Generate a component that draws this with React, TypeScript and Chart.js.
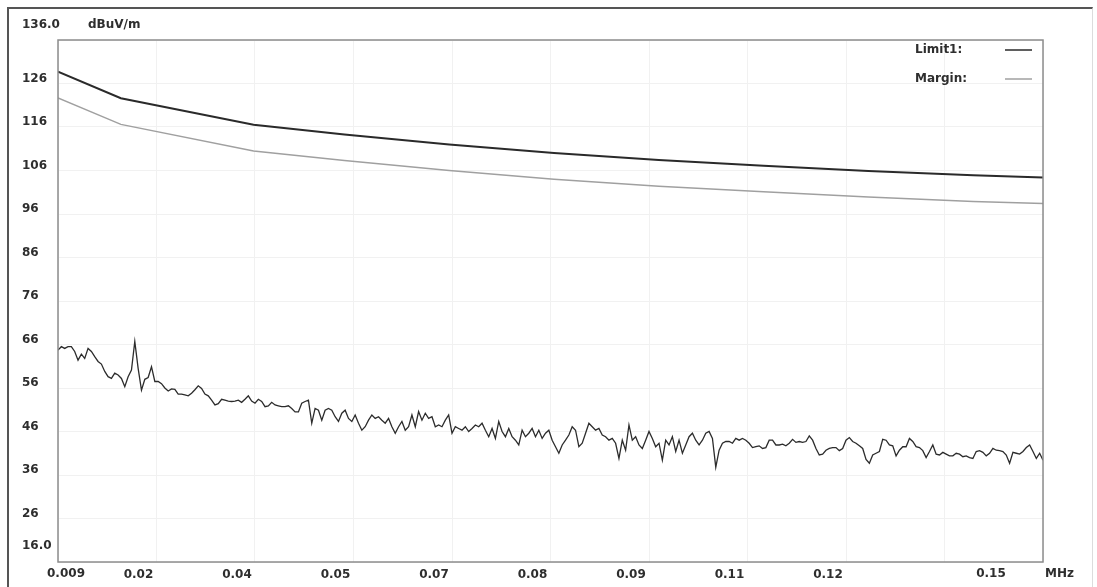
import React, { useEffect, useRef } from "react";
import { Chart, registerables } from "chart.js";

Chart.register(...registerables);

// ---- axes ----
const X_MIN = 0.009;
const X_MAX = 0.15;
const Y_MIN = 16;
const Y_MAX = 136;
const Y_STEP = 10;
// ten equal divisions of the sweep
const X_GRID = [0.009, 0.0231, 0.0372, 0.0513, 0.0654, 0.0795, 0.0936, 0.1077, 0.1218, 0.1359, 0.15];
const X_TICK_LABELS = ["", "0.02", "0.04", "0.05", "0.07", "0.08", "0.09", "0.11", "0.12", "", ""];
const X_FIRST_LABEL = "0.009";
const X_LAST_LABEL = "0.15";
const X_UNIT = "MHz";
const Y_TOP_LABEL = "136.0";
const Y_BOTTOM_LABEL = "16.0";
const Y_UNIT = "dBuV/m";

// ---- limit lines ----
const LIMIT_FREQ = [0.009, 0.018, 0.037, 0.05, 0.065, 0.08, 0.095, 0.11, 0.125, 0.14, 0.15];
const LIMIT_LEVEL = [128.7, 122.6, 116.5, 114.3, 112.0, 110.0, 108.4, 107.1, 105.9, 104.9, 104.4];
const MARGIN_LEVEL = [122.7, 116.6, 110.5, 108.3, 106.0, 104.0, 102.4, 101.1, 99.9, 98.9, 98.4];

// ---- measured trace (uniform sweep 0.009 .. 0.15 MHz) ----
const TRACE_A = [
  64.7, 65.5, 65.1, 65.5, 65.5, 64.4, 62.4, 63.8, 62.8, 65.1,
  64.4, 63.2, 62.1, 61.5, 59.8, 58.6, 58.2, 59.4, 59.0, 58.2,
  56.3, 58.6, 60.1, 66.7, 60.5, 55.5, 58.0, 58.4, 60.9, 57.5,
  57.5, 57.0, 56.0, 55.3, 55.8, 55.7, 54.6, 54.6, 54.4, 54.2,
  54.8, 55.6, 56.5, 55.9, 54.6, 54.2, 53.2, 52.1, 52.4, 53.4,
  53.2, 53.0, 52.9, 53.0, 53.2, 52.7, 53.4, 54.2, 53.0, 52.5,
  53.4, 52.9, 51.7, 51.9, 52.7, 52.1, 51.9, 51.7, 51.7, 51.9,
  51.3, 50.5, 50.5,
];
const TRACE_B = [
  52.5, 52.9, 53.2, 47.9, 51.3, 50.9, 48.6, 50.9, 51.3, 50.9,
  49.4, 48.3, 50.2, 50.9, 49.0, 48.3, 49.8, 47.9, 46.3, 47.1,
  48.6, 49.8, 49.0, 49.4, 48.6, 47.9, 49.0, 47.1, 45.6, 47.1,
  48.3, 46.3, 47.1, 49.8, 47.1, 50.6, 48.6, 50.2, 49.0, 49.4,
  47.1, 47.5, 47.1, 48.6, 49.8, 45.6, 47.1, 46.7, 46.3, 47.1,
  46.0, 46.7, 47.5, 47.1, 47.9, 46.3, 44.8, 46.7, 44.4, 48.3,
  46.0, 44.8, 46.7, 44.8, 44.0, 42.9, 46.3, 44.8, 45.6, 46.7,
  44.8, 46.3, 44.4, 45.6, 46.3, 44.0, 42.5, 41.0, 42.9, 44.0,
  45.2, 47.1, 46.3, 42.5, 43.3, 45.6, 47.9, 47.1, 46.3, 46.7,
  45.2, 44.8, 44.0, 44.4, 43.3, 39.8, 44.0, 41.7, 47.5, 44.0,
  44.8, 42.9, 42.1, 44.0, 46.0, 44.4, 42.5, 43.3, 39.4, 44.0,
  42.9, 44.8, 41.4, 44.0, 41.0, 42.9, 44.8, 45.6, 44.0, 42.9,
];
const TRACE_C = [
  44.0, 45.6, 46.0, 44.4, 37.8, 41.7, 43.3, 43.7, 43.7, 43.3,
  44.4, 44.0, 44.4, 44.0, 43.3, 42.3, 42.5, 42.7, 42.1, 42.3,
  44.0, 44.0, 42.9, 42.9, 43.1, 42.7, 43.3, 44.2, 43.5, 43.7,
  43.5, 43.7, 45.0, 44.0, 42.1, 40.6, 40.8, 41.7, 42.1, 42.3,
  42.3, 41.6, 42.1, 44.0, 44.6, 43.7, 43.3, 42.7, 42.1, 39.6,
  38.7, 40.6, 41.0, 41.4, 44.2, 44.0, 42.9, 42.7, 40.4, 41.7,
  42.5, 42.5, 44.4, 43.7, 42.5, 42.3, 41.6, 40.0, 41.4, 42.9,
  40.8, 40.6, 41.2, 40.8, 40.4, 40.4, 41.0, 40.8, 40.2, 40.4,
  40.0, 39.8, 41.4, 41.6, 41.2, 40.4, 41.0, 42.1, 41.7, 41.6,
  41.4, 40.6, 38.7, 41.2, 41.0, 40.8, 41.4, 42.3, 42.9, 41.4,
  39.8, 41.0, 39.4,
];
const TRACE_LEVEL = [...TRACE_A, ...TRACE_B, ...TRACE_C];

const LEGEND_LABELS = ["Limit1:", "Margin:"];

const FONT = { family: '"DejaVu Sans", sans-serif', size: 12, weight: "bold" as const };
const TEXT = "#2e2e2e";
const GRID = "#f1f1f1";

export default function App() {
  const ref = useRef<HTMLCanvasElement | null>(null);

  useEffect(() => {
    if (!ref.current) return;
    const n = TRACE_LEVEL.length;
    const traceData = TRACE_LEVEL.map((v, i) => ({ x: X_MIN + (i * (X_MAX - X_MIN)) / (n - 1), y: v }));
    const limitData = LIMIT_FREQ.map((f, i) => ({ x: f, y: LIMIT_LEVEL[i] }));
    const marginData = LIMIT_FREQ.map((f, i) => ({ x: f, y: MARGIN_LEVEL[i] }));

    const textPlugin = {
      id: "emcText",
      afterDraw(chart: any) {
        const { ctx, chartArea } = chart;
        const xs = chart.scales.x;
        ctx.save();
        // plot frame
        ctx.strokeStyle = "#8c8c8c";
        ctx.lineWidth = 1.5;
        ctx.strokeRect(chartArea.left, chartArea.top, chartArea.right - chartArea.left, chartArea.bottom - chartArea.top);
        ctx.font = `bold 12px "DejaVu Sans", sans-serif`;
        ctx.fillStyle = TEXT;
        ctx.textBaseline = "middle";
        ctx.textAlign = "left";
        ctx.fillText(Y_TOP_LABEL, 22, 25);
        ctx.fillText(Y_UNIT, 88, 25);
        ctx.fillText(Y_BOTTOM_LABEL, 22, 546);
        ctx.fillText(X_UNIT, chartArea.right + 2, 574);
        ctx.textAlign = "center";
        ctx.fillText(X_FIRST_LABEL, xs.getPixelForValue(X_MIN) + 8, 574);
        ctx.fillText(X_LAST_LABEL, xs.getPixelForValue(X_MAX) - 52, 574);
        // legend
        ctx.textAlign = "left";
        const ds = chart.data.datasets;
        [1, 2].forEach((di, k) => {
          const y = chartArea.top + 10 + k * 29;
          ctx.fillStyle = TEXT;
          ctx.fillText(ds[di].label, chartArea.right - 128, y);
          ctx.strokeStyle = ds[di].borderColor;
          ctx.lineWidth = 1.5;
          ctx.beginPath();
          ctx.moveTo(chartArea.right - 38, y);
          ctx.lineTo(chartArea.right - 11, y);
          ctx.stroke();
        });
        ctx.restore();
      },
    };

    const chart = new Chart(ref.current, {
      type: "line",
      data: {
        datasets: [
          { label: "Level", data: traceData, borderColor: "#2c2c2c", borderWidth: 1.3, pointRadius: 0, tension: 0 },
          { label: LEGEND_LABELS[0], data: limitData, borderColor: "#2a2a2a", borderWidth: 2, pointRadius: 0, tension: 0 },
          { label: LEGEND_LABELS[1], data: marginData, borderColor: "#a0a0a0", borderWidth: 1.5, pointRadius: 0, tension: 0 },
        ],
      },
      options: {
        animation: false,
        responsive: false,
        devicePixelRatio: 1,
        layout: { padding: { left: 22, right: 54, top: 40, bottom: 0 } },
        plugins: { legend: { display: false }, tooltip: { enabled: false }, title: { display: false } },
        scales: {
          x: {
            type: "linear",
            min: X_MIN,
            max: X_MAX,
            afterBuildTicks: (scale: any) => {
              scale.ticks = X_GRID.map((v) => ({ value: v }));
            },
            afterFit: (scale: any) => {
              scale.height = 25;
            },
            grid: { color: GRID, drawTicks: false, lineWidth: 1 },
            border: { display: false },
            ticks: {
              autoSkip: false,
              maxRotation: 0,
              padding: 6,
              labelOffset: -18,
              color: TEXT,
              font: FONT,
              callback: (_v: any, i: number) => X_TICK_LABELS[i] ?? "",
            },
          },
          y: {
            type: "linear",
            min: Y_MIN,
            max: Y_MAX,
            afterFit: (scale: any) => {
              scale.width = 36;
            },
            grid: { color: GRID, drawTicks: false, lineWidth: 1 },
            border: { display: false },
            ticks: {
              stepSize: Y_STEP,
              crossAlign: "far",
              padding: 0,
              labelOffset: -5,
              color: TEXT,
              font: FONT,
              callback: (v: any) => (v === Y_MIN || v === Y_MAX ? "" : String(v)),
            },
          },
        },
      },
      plugins: [textPlugin],
    } as any);
    return () => chart.destroy();
  }, []);

  return (
    <div style={{ position: "fixed", inset: 0, overflow: "hidden", background: "#fff" }}>
      <canvas
        ref={ref}
        width={1097}
        height={587}
        style={{ position: "absolute", left: 0, top: 0, width: 1097, height: 587 }}
      />
      <div
        style={{
          position: "absolute",
          left: 7,
          top: 7,
          right: 4,
          bottom: -10,
          borderLeft: "2px solid #555",
          borderTop: "2px solid #555",
          borderRight: "1px solid #dcdcdc",
          pointerEvents: "none",
        }}
      />
    </div>
  );
}
